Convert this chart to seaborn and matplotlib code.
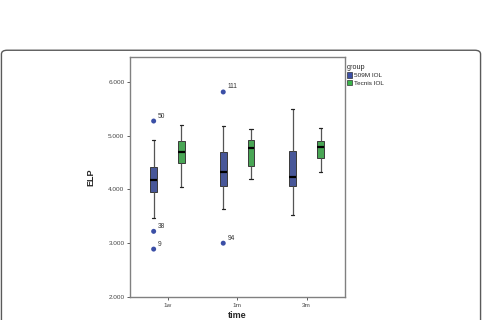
import numpy as np
import pandas as pd
import matplotlib
matplotlib.use("Agg")
import matplotlib.pyplot as plt
from matplotlib.patches import FancyBboxPatch, Patch
import seaborn as sns

# ---- data ----
times = ["1w", "1m", "3m"]
groups = ["509M IOL", "Tecnis IOL"]

# five-number summaries per time (whisker low, Q1, median, Q3, whisker high)
blue_low = [3.47, 3.64, 3.53]
blue_q1 = [3.95, 4.06, 4.06]
blue_med = [4.18, 4.33, 4.23]
blue_q3 = [4.41, 4.70, 4.72]
blue_high = [4.915, 5.17, 5.50]

green_low = [4.05, 4.19, 4.33]
green_q1 = [4.49, 4.44, 4.59]
green_med = [4.70, 4.77, 4.79]
green_q3 = [4.90, 4.91, 4.89]
green_high = [5.19, 5.13, 5.14]

# outliers (509M IOL only)
out_time = ["1w", "1w", "1w", "1m", "1m"]
out_value = [5.27, 3.22, 2.89, 5.81, 3.00]
out_label = ["50", "38", "9", "111", "94"]

yticks = [2.0, 3.0, 4.0, 5.0, 6.0]
ytick_labels = ["2.000", "3.000", "4.000", "5.000", "6.000"]

# ---- build table ----
rows = []
for i, t in enumerate(times):
    for v in (blue_low[i], blue_q1[i], blue_med[i], blue_q3[i], blue_high[i]):
        rows.append((t, groups[0], v))
    for v in (green_low[i], green_q1[i], green_med[i], green_q3[i], green_high[i]):
        rows.append((t, groups[1], v))
df = pd.DataFrame(rows, columns=["time", "group", "ELP"])
df_out = pd.DataFrame({"time": out_time, "group": groups[0], "ELP": out_value})

BLUE = "#3b4fa6"
GREEN = "#3ab54a"
palette = {groups[0]: BLUE, groups[1]: GREEN}

sns.set_style("white")
plt.rcParams["font.family"] = ["Arial", "Liberation Sans", "DejaVu Sans"]

fig = plt.figure(figsize=(4.82, 3.2), dpi=100)
# outer rounded frame
frame = FancyBboxPatch((0.003, -0.2), 0.994, 1.043, boxstyle="round,pad=0,rounding_size=0.012",
                       transform=fig.transFigure, facecolor="none", edgecolor="#5a5a5a",
                       linewidth=1.0, zorder=0)
fig.patches.append(frame)

ax = fig.add_axes([0.2697, 0.0719, 0.4461, 0.75])

sns.boxplot(data=df, x="time", y="ELP", hue="group", order=times, hue_order=groups,
            palette=palette, whis=(0, 100), width=0.8, gap=0.76, showfliers=False,
            linecolor="#3a3a3a", linewidth=0.7, legend=False, ax=ax,
            medianprops=dict(color="black", linewidth=1.6),
            whiskerprops=dict(color="#555555", linewidth=0.9),
            capprops=dict(color="#222222", linewidth=0.9))

sns.stripplot(data=df_out, x="time", y="ELP", hue="group", order=times, hue_order=groups,
              palette=palette, dodge=True, jitter=False, size=3.6, legend=False, ax=ax,
              edgecolor="none", linewidth=0)

# outlier labels
for t, v, lab in zip(out_time, out_value, out_label):
    xi = times.index(t) - 0.2
    ax.annotate(lab, (xi, v), xytext=(3, 2.5), textcoords="offset points",
                fontsize=4.8, color="#333333")

ax.set_xlim(-0.54, 2.55)
ax.set_ylim(2.0, 6.46)
ax.set_yticks(yticks)
ax.set_yticklabels(ytick_labels)
ax.tick_params(axis="both", labelsize=4.6, colors="#444444", length=2.5, width=0.6,
               direction="out", pad=1.5)
ax.tick_params(axis="both", left=True, bottom=True)
for s in ax.spines.values():
    s.set_color("#808080")
    s.set_linewidth(1.0)

ax.set_xlabel("time", fontsize=6.5, fontweight="bold", labelpad=2.5)
ax.set_ylabel("ELP", fontsize=6.5, fontweight="bold", labelpad=9)

handles = [Patch(facecolor=BLUE, edgecolor="#333333", linewidth=0.5),
           Patch(facecolor=GREEN, edgecolor="#333333", linewidth=0.5)]
leg = fig.legend(handles, groups, title="group", loc="upper left",
                 bbox_to_anchor=(0.71, 0.815), frameon=False, fontsize=4.6,
                 title_fontsize=5.2, handlelength=0.9, handleheight=0.9,
                 handletextpad=0.3, labelspacing=0.25, borderpad=0.2)
leg._legend_box.align = "left"

fig.savefig("out.png", dpi=100)
